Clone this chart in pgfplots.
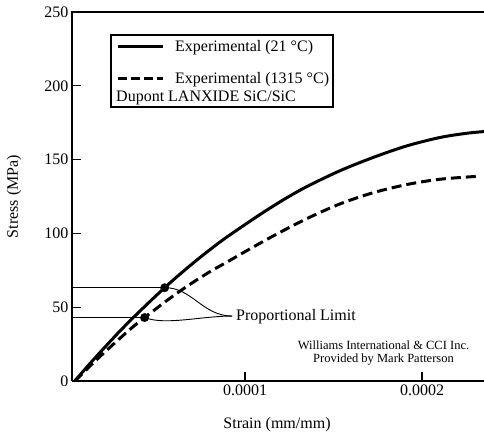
\documentclass[border=0pt]{standalone}
\usepackage{fontspec}
\setmainfont{Liberation Serif}
\usepackage{pgfplots}
\pgfplotsset{compat=1.18}
\usepackage{pgfplotstable}

% Stress-strain curves, Dupont LANXIDE SiC/SiC
\pgfplotstableread{
strain stress
0.0000038 0
0.0000113 10.3
0.0000188 20.3
0.0000282 32.4
0.0000358 41.7
0.0000450 52.4
0.0000546 63.2
0.0000620 71.1
0.0000708 80.0
0.0000800 88.8
0.0000897 97.5
0.0001085 112.8
0.0001220 123.0
0.0001349 131.7
0.0001537 142.5
0.0001725 151.5
0.0001914 159.3
0.0002102 165.0
0.0002250 167.8
0.0002350 169.0
}\roomtemp

\pgfplotstableread{
strain stress
0.0000040 0
0.0000113 8.8
0.0000188 17.4
0.0000282 27.7
0.0000360 36.0
0.0000433 43.0
0.0000565 55.1
0.0000651 62.4
0.0000734 69.0
0.0000815 75.0
0.0000897 80.5
0.0001010 88.3
0.0001160 98.3
0.0001349 110.0
0.0001537 120.0
0.0001725 127.6
0.0001914 133.1
0.0002102 136.7
0.0002330 138.8
}\hightemp

\begin{document}
\begin{tikzpicture}
\path[use as bounding box] (-72pt,-55pt) rectangle (412pt,381pt);
\begin{axis}[
  at={(0,0)}, anchor=south west,
  scale only axis, width=412pt, height=369pt,
  xmin=0.00000226, xmax=0.000235,
  ymin=0, ymax=250,
  axis x line*=bottom, axis y line*=left,
  axis line style={-, line width=1.3pt},
  xtick={0.0001,0.0002}, xticklabels={0.0001,0.0002},
  scaled x ticks=false,
  ytick={0,50,...,250},
  tick align=inside,
  major tick length=9pt,
  tick style={line width=1.1pt, black},
  tick label style={font=\fontsize{16}{19}\selectfont},
  /pgf/number format/assume math mode=true,
  label style={font=\fontsize{16}{19}\selectfont},
  xlabel={Strain (mm/mm)}, ylabel={Stress (MPa)},
  xlabel style={at={(axis description cs:0.4976,-0.119)}, anchor=center},
  ylabel style={at={(axis description cs:-0.141,0.5)}, anchor=center},
  clip=false,
]
\addplot[line width=3pt, smooth, line cap=butt] table[x=strain, y=stress] {\roomtemp};
\addplot[line width=3pt, smooth, dash pattern=on 10pt off 5pt] table[x=strain, y=stress] {\hightemp};

% proportional limit levels
\addplot[line width=0.9pt] coordinates {(0.00000226,63.2) (0.0000546,63.2)};
\addplot[line width=0.9pt] coordinates {(0.00000226,43.0) (0.0000433,43.0)};
\addplot[only marks, mark=*, mark size=4.2pt] coordinates {(0.0000546,63.2) (0.0000433,43.0)};

% leaders to the label
\draw[line width=0.9pt] (axis cs:0.0000546,63.2) .. controls (axis cs:0.0000700,63.5) and (axis cs:0.0000760,44) .. (axis cs:0.0000927,44);
\draw[line width=0.9pt] (axis cs:0.0000433,43.0) .. controls (axis cs:0.0000550,37.5) and (axis cs:0.0000750,44) .. (axis cs:0.0000927,44);
\end{axis}

\begin{scope}[shift={(-72pt,381pt)}, x=1pt, y=-1pt]
  \draw[line width=1.3pt] (71.35,12) -- (484,12);
  % legend
  \draw[line width=1.2pt] (111,35) rectangle (333,107);
  \draw[line width=3pt] (118,47) -- (163,47);
  \draw[line width=3pt, dash pattern=on 9pt off 4pt] (118,79) -- (163,79);
  \node[anchor=base west, inner sep=0, font=\fontsize{16}{19}\selectfont] at (175,52) {Experimental (21 °C)};
  \node[anchor=base west, inner sep=0, font=\fontsize{16}{19}\selectfont] at (175,84) {Experimental (1315 °C)};
  \node[anchor=base west, inner sep=0, font=\fontsize{16}{19}\selectfont] at (116,102) {Dupont LANXIDE SiC/SiC};
  % annotations
  \node[anchor=west, inner sep=0, font=\fontsize{16}{19}\selectfont] at (236,317) {Proportional Limit};
  \node[inner sep=0, font=\fontsize{12.5}{15}\selectfont] at (383.5,345) {Williams International \& CCI Inc.};
  \node[inner sep=0, font=\fontsize{12.5}{15}\selectfont] at (383.5,360) {Provided by Mark Patterson};
\end{scope}
\end{tikzpicture}
\end{document}
